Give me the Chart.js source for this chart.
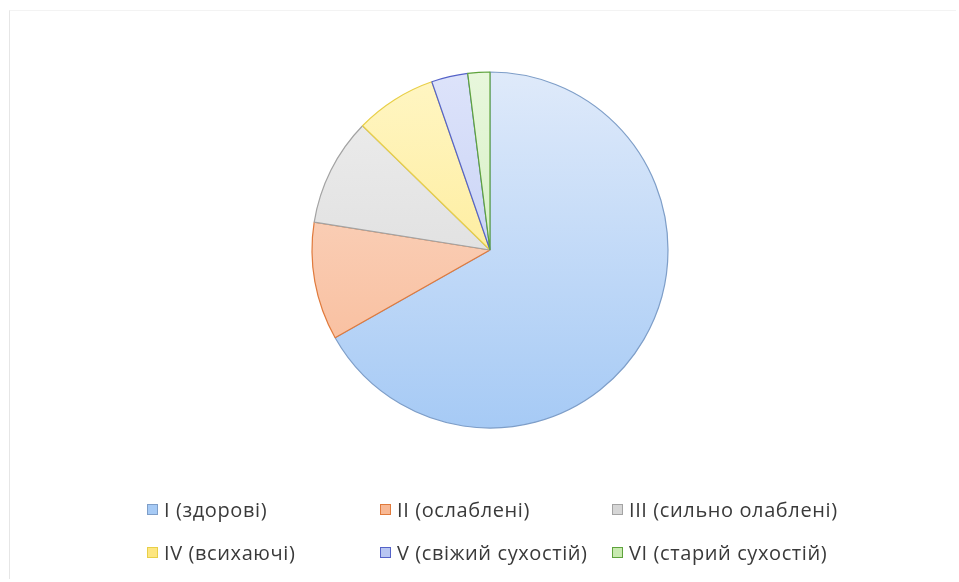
<!DOCTYPE html>
<html>
<head>
<meta charset="utf-8">
<script src="https://cdn.jsdelivr.net/npm/chart.js@4.4.0/dist/chart.umd.min.js"></script>
<style>
  body { margin: 0; background: #fff; }
  .wrap { position: relative; width: 959px; height: 582px; overflow: hidden; }
  .frame { position: absolute; left: 9px; top: 10px; width: 946px; height: 568px; border-left: 1px solid #e6e6e6; border-top: 1px solid #f3f3f3; }
  .chart_box { position: absolute; left: 0; top: 0; width: 959px; height: 500px; }
  .legend { position: absolute; left: 147px; top: 498px; display: grid; grid-template-columns: 233px 232px 260px; grid-auto-rows: 43px;
            font-family: "Open Sans", sans-serif; font-size: 20px; letter-spacing: 0.6px; color: #3a3a3a; }
  .legend div { display: flex; align-items: center; height: 22px; white-space: nowrap; }
  .legend span.box { width: 9px; height: 9px; border: 1px solid; margin-right: 6px; flex: none; }
</style>
</head>
<body>
<div class="wrap">
  <div class="frame"></div>
  <div class="chart_box"><canvas id="chart"></canvas></div>
  <div class="legend" id="legend"></div>
</div>
<script>
// categories and shares (%)
const categories = ['I (здорові)', 'II (ослаблені)', 'III (сильно олаблені)', 'IV (всихаючі)', 'V (свіжий сухостій)', 'VI (старий сухостій)'];
const shares = [66.8, 10.7, 9.8, 7.4, 3.3, 2.0];

const fillTop = ['#dfeafa', '#fbdccb', '#eeeeee', '#fff6c4', '#dde3fa', '#e8f7dc'];
const fillBottom = ['#a6caf5', '#f8b894', '#d6d6d6', '#fde680', '#b8c6f2', '#c8eab0'];
const borders = ['#7e9ec8', '#e07a3c', '#a3a3a3', '#e8cf48', '#5563c8', '#5ea33c'];

const ctx = document.querySelector('#chart').getContext('2d');

function gradientFor(i) {
    const g = ctx.createLinearGradient(0, 72, 0, 428);
    g.addColorStop(0, fillTop[i]);
    g.addColorStop(1, fillBottom[i]);
    return g;
}

new Chart(ctx, {
    type: 'pie',
    data: {
        labels: categories,
        datasets: [{
            data: shares,
            backgroundColor: (c) => gradientFor(c.dataIndex),
            borderColor: borders,
            borderWidth: 1.2,
            radius: 178
        }]
    },
    options: {
        responsive: true,
        maintainAspectRatio: false,
        animation: false,
        layout: { padding: { left: 21, right: 0, top: 0, bottom: 0 } },
        plugins: {
            legend: { display: false },
            tooltip: { enabled: false }
        }
    }
});

// legend grid, same look as the original
const legend = document.querySelector('#legend');
categories.forEach((name, i) => {
    const item = document.createElement('div');
    const box = document.createElement('span');
    box.className = 'box';
    box.style.borderColor = borders[i];
    box.style.background = fillBottom[i];
    item.appendChild(box);
    item.appendChild(document.createTextNode(name));
    legend.appendChild(item);
});
</script>
</body>
</html>
